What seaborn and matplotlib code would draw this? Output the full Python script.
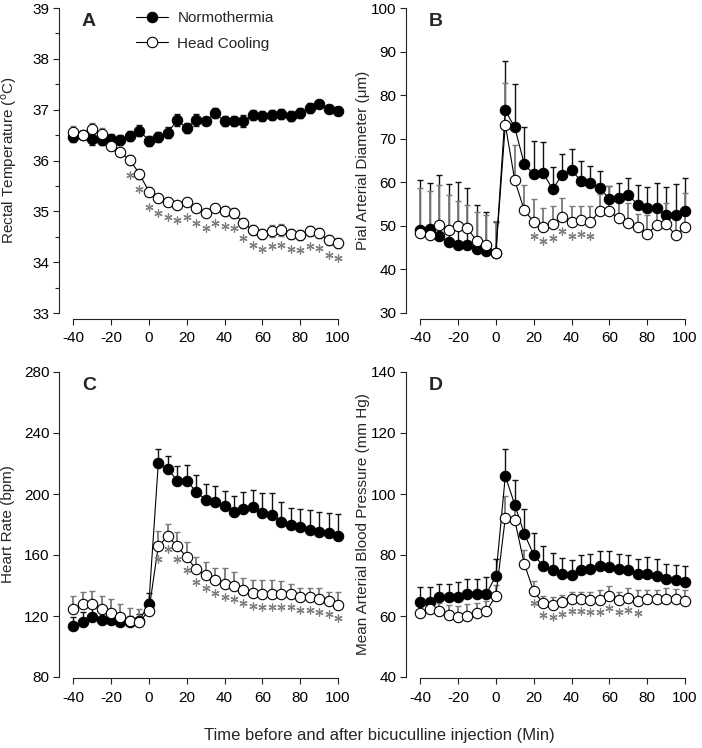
import numpy as np
import matplotlib
matplotlib.use("Agg")
import matplotlib.pyplot as plt
import matplotlib.transforms as mtrans
from matplotlib.ticker import MultipleLocator
import seaborn as sns

sns.set_theme(style="ticks")
plt.rcParams["font.family"] = ["Liberation Sans", "DejaVu Sans"]
plt.rcParams["mathtext.fontset"] = "custom"
plt.rcParams["mathtext.rm"] = "Liberation Sans"
plt.rcParams["axes.unicode_minus"] = False

# ---------------------------------------------------------------- data
time = list(range(-40, 101, 5))

# A: rectal temperature (C), mean and SEM
temp_normo = [36.47, 36.51, 36.43, 36.41, 36.43, 36.41, 36.49, 36.59, 36.39, 36.46,
              36.55, 36.79, 36.64, 36.79, 36.77, 36.93, 36.77, 36.77, 36.77, 36.89,
              36.88, 36.89, 36.91, 36.88, 36.93, 37.03, 37.11, 37.01, 36.97]
temp_normo_err = [0.10, 0.08, 0.12, 0.10, 0.10, 0.10, 0.10, 0.10, 0.10, 0.10,
                  0.10, 0.12, 0.10, 0.12, 0.08, 0.10, 0.10, 0.10, 0.12, 0.10,
                  0.10, 0.10, 0.10, 0.10, 0.10, 0.10, 0.08, 0.08, 0.08]
temp_hc = [36.57, 36.51, 36.61, 36.53, 36.29, 36.16, 36.01, 35.74, 35.39, 35.26,
           35.19, 35.13, 35.19, 35.06, 34.97, 35.06, 35.00, 34.96, 34.77, 34.63,
           34.56, 34.61, 34.63, 34.56, 34.53, 34.61, 34.57, 34.43, 34.37]
temp_hc_err = [0.10, 0.08, 0.12, 0.10, 0.08, 0.08, 0.10, 0.10, 0.08, 0.08,
               0.08, 0.08, 0.08, 0.08, 0.08, 0.08, 0.10, 0.10, 0.10, 0.10,
               0.10, 0.12, 0.12, 0.10, 0.10, 0.10, 0.10, 0.10, 0.10]
temp_sig = list(range(-10, 101, 5))

# B: pial arterial diameter (um)
diam_normo = [49.0, 49.2, 47.6, 46.2, 45.7, 45.5, 44.6, 44.2, 43.8, 76.5,
              72.6, 64.2, 61.8, 62.2, 58.4, 61.7, 62.8, 60.3, 59.9, 58.8,
              56.1, 56.3, 57.1, 54.9, 54.0, 54.0, 52.5, 52.5, 53.4]
diam_normo_err = [11.5, 10.6, 14.1, 13.3, 14.3, 13.3, 10.3, 9.0, 7.1, 11.3,
                  10.0, 8.6, 7.6, 7.0, 5.1, 4.8, 4.9, 4.5, 3.9, 3.8,
                  3.1, 3.6, 3.8, 4.5, 5.0, 5.8, 6.5, 7.0, 7.5]
diam_hc = [48.4, 48.0, 50.2, 49.0, 50.0, 49.4, 46.5, 45.7, 43.8, 73.2,
           60.5, 53.6, 50.9, 49.8, 50.5, 52.1, 50.9, 51.3, 50.9, 53.4,
           53.4, 51.7, 50.7, 49.8, 48.2, 50.2, 50.5, 47.8, 49.8]
diam_hc_err = [10.2, 10.1, 9.2, 8.1, 5.8, 5.4, 6.6, 6.8, 7.3, 9.6,
               8.0, 5.8, 5.3, 4.4, 4.1, 4.2, 3.7, 3.3, 3.6, 3.8,
               5.7, 5.5, 4.6, 3.0, 4.3, 4.7, 4.7, 5.3, 7.7]
diam_sig = [20, 25, 30, 35, 40, 45, 50]

# C: heart rate (bpm)
hr_normo = [113.4, 116.1, 119.6, 117.4, 117.2, 116.3, 116.0, 117.0, 128.1, 220.2,
            216.4, 208.8, 208.8, 201.5, 196.3, 194.5, 192.3, 188.0, 190.2, 191.2,
            187.5, 186.2, 181.8, 179.6, 178.1, 176.5, 175.2, 174.4, 172.2]
hr_normo_err = [6.2, 6.5, 7.0, 5.2, 4.3, 5.2, 4.0, 4.0, 7.2, 9.0,
                8.4, 9.4, 10.3, 11.0, 10.3, 10.5, 9.9, 10.9, 11.3, 11.4,
                13.2, 14.5, 12.7, 11.0, 12.0, 13.0, 13.2, 12.9, 14.6]
hr_hc = [124.4, 127.7, 128.1, 124.8, 122.2, 119.6, 116.7, 116.3, 123.3, 166.0,
         172.2, 166.0, 158.4, 150.7, 146.7, 143.7, 140.8, 139.7, 137.1, 135.3,
         134.7, 134.2, 134.2, 134.2, 132.5, 132.5, 131.4, 129.9, 127.0]
hr_hc_err = [8.8, 8.1, 8.3, 8.4, 8.8, 8.1, 8.8, 8.5, 8.0, 9.9,
             8.1, 8.8, 9.8, 8.3, 8.4, 8.1, 11.0, 9.2, 8.1, 8.4,
             9.0, 9.5, 8.8, 7.0, 6.1, 6.1, 7.2, 5.9, 8.8]
hr_sig = list(range(5, 101, 5))

# D: mean arterial blood pressure (mm Hg)
map_normo = [64.6, 64.6, 66.2, 66.2, 66.2, 67.3, 67.3, 67.3, 73.1, 105.9,
             96.5, 87.0, 80.1, 76.4, 75.0, 73.9, 73.6, 75.0, 75.3, 76.3,
             76.1, 75.3, 75.0, 73.7, 73.9, 73.0, 72.2, 71.7, 71.1]
map_normo_err = [4.9, 4.9, 4.4, 4.4, 4.9, 4.9, 4.9, 5.5, 5.7, 8.7,
                 8.0, 8.0, 7.1, 6.6, 5.8, 5.2, 4.9, 4.9, 4.9, 4.9,
                 5.2, 5.1, 5.1, 5.1, 5.4, 5.8, 4.7, 5.1, 5.2]
map_hc = [61.1, 62.2, 61.5, 60.2, 59.7, 60.0, 61.0, 61.6, 66.6, 92.2,
          91.4, 77.2, 68.1, 64.3, 63.5, 64.6, 65.5, 65.5, 65.4, 65.4,
          66.6, 65.4, 65.9, 64.9, 65.7, 65.7, 65.7, 65.7, 64.8]
map_hc_err = [2.6, 2.1, 2.8, 3.3, 3.6, 3.8, 3.3, 3.3, 3.5, 7.1,
              5.4, 4.5, 3.4, 2.3, 2.7, 2.4, 2.4, 2.4, 2.5, 3.0,
              3.2, 2.5, 3.3, 3.5, 2.9, 2.9, 3.5, 3.3, 3.6]
map_sig = list(range(20, 76, 5))

labels = ["Normothermia", "Head Cooling"]
xticks = list(range(-40, 101, 20))

# ---------------------------------------------------------------- figure
fig = plt.figure(figsize=(7.02, 7.48), dpi=100)
W, H = 702, 748


def axes_at(left, top):
    return fig.add_axes([left / W, 1 - (top + 305) / H, 286 / W, 305 / H])


def draw_panel(ax, normo, normo_err, hc, hc_err, sig, ylim, ystep, ylabel,
               letter, both_sides=False, minor=None, star_off=13, xoff=4):
    t = np.array(time)
    normo, hc = np.array(normo), np.array(hc)
    ne, he = np.array(normo_err), np.array(hc_err)
    lo_n = ne if both_sides else np.zeros_like(ne)
    lo_h = he if both_sides else np.zeros_like(he)

    ax.errorbar(t, normo, yerr=[lo_n, ne], fmt="none", ecolor="#111111",
                elinewidth=1.0, capsize=2.5, capthick=1.0, zorder=2, clip_on=False)
    ax.errorbar(t, hc, yerr=[lo_h, he], fmt="none", ecolor="#7a7a7a",
                elinewidth=1.3, capsize=2.5, capthick=1.0, zorder=2, clip_on=False)

    sns.lineplot(x=t, y=normo, ax=ax, color="black", lw=0.8, marker="o",
                 markersize=7.5, markerfacecolor="black", markeredgecolor="black",
                 markeredgewidth=0.8, errorbar=None, zorder=3, clip_on=False)
    sns.lineplot(x=t, y=hc, ax=ax, color="black", lw=0.8, marker="o",
                 markersize=7.5, markerfacecolor="white", markeredgecolor="black",
                 markeredgewidth=0.8, errorbar=None, zorder=4, clip_on=False)

    # significance asterisks under the head cooling points
    lookup = dict(zip(time, hc))
    trans = mtrans.offset_copy(ax.transData, fig=fig, x=0, y=-star_off, units="dots")
    ax.scatter(sig, [lookup[s] for s in sig], marker=(6, 2, 0), s=28,
               color="#808080", linewidths=0.9, transform=trans, zorder=5,
               clip_on=False)

    ax.set_xlim(-47.5, 103.7)
    ax.set_ylim(*ylim)
    ax.set_xticks(xticks)
    ax.yaxis.set_major_locator(MultipleLocator(ystep))
    if minor:
        ax.yaxis.set_minor_locator(MultipleLocator(minor))
    ax.tick_params(which="both", direction="out", width=0.8, colors="#222222",
                   labelcolor="black", labelsize=11)
    ax.tick_params(which="major", length=4)
    ax.tick_params(which="minor", length=3)
    ax.tick_params(axis="x", pad=5)
    ax.tick_params(axis="y", pad=3)
    sns.despine(ax=ax, offset={"bottom": xoff})
    ax.spines["bottom"].set_bounds(-40, 100)
    for s in ("left", "bottom"):
        ax.spines[s].set_linewidth(0.8)
        ax.spines[s].set_color("#222222")
    ax.set_xlabel("")
    ax.set_ylabel(ylabel, fontsize=11)
    ax.text(0.08, 0.985, letter, transform=ax.transAxes, fontsize=14,
            fontweight="bold", va="top", ha="left")


axA = axes_at(59, 8)
axB = axes_at(406, 8)
axC = axes_at(59, 372)
axD = axes_at(406, 372)

draw_panel(axA, temp_normo, temp_normo_err, temp_hc, temp_hc_err, temp_sig,
           (33, 39), 1, r"Rectal Temperature ($^{\rm o}$C)", "A",
           both_sides=True, minor=0.5, star_off=15)
draw_panel(axB, diam_normo, diam_normo_err, diam_hc, diam_hc_err, diam_sig,
           (30, 100), 10, "Pial Arterial Diameter (\u03bcm)", "B", star_off=14)
draw_panel(axC, hr_normo, hr_normo_err, hr_hc, hr_hc_err, hr_sig,
           (80, 280), 40, "Heart Rate (bpm)", "C", star_off=13, xoff=1)
draw_panel(axD, map_normo, map_normo_err, map_hc, map_hc_err, map_sig,
           (40, 140), 20, "Mean Arterial Blood Pressure (mm Hg)", "D",
           star_off=12, xoff=1)

axA.yaxis.set_label_coords(-0.14, 0.5)
axB.yaxis.set_label_coords(-0.125, 0.5)
axC.yaxis.set_label_coords(-0.154, 0.5)
axD.yaxis.set_label_coords(-0.125, 0.5)

# legend in panel A from the two drawn series
lines = [l for l in axA.lines if l.get_marker() == "o"]
axA.legend(lines[:2], labels, loc="upper left", bbox_to_anchor=(0.27, 0.99),
           frameon=False, fontsize=11, borderpad=0, borderaxespad=0,
           handlelength=2.1, handletextpad=0.6, labelspacing=0.75)

fig.text(0.541, 0.017, "Time before and after bicuculline injection (Min)",
         ha="center", va="center", fontsize=12)

fig.savefig("out.png", dpi=100)
